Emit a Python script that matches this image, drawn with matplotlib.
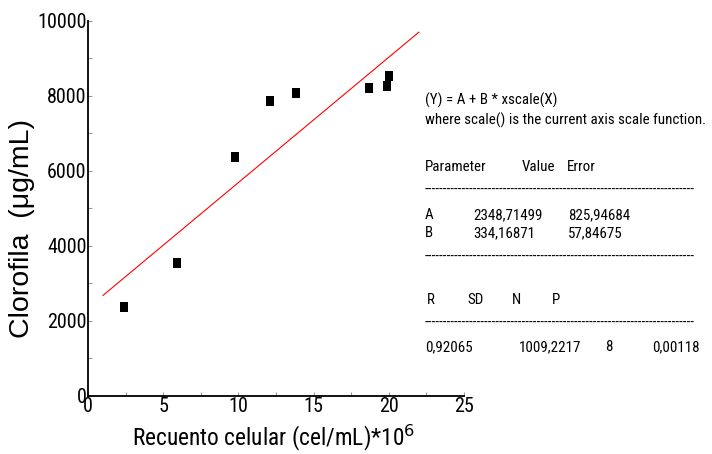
import numpy as np
import matplotlib
matplotlib.use("Agg")
import matplotlib.pyplot as plt
from matplotlib.ticker import MultipleLocator

# -----------------------------
# Data
# -----------------------------
recuento = [2.4, 5.9, 9.8, 12.1, 13.8, 18.7, 19.9, 20.0]
clorofila = [2365, 3550, 6380, 7870, 8080, 8220, 8270, 8540]

fit_A = 2348.71499
fit_B = 334.16871
fit_x = [1.0, 22.0]

narrow = ["Roboto Condensed", "Liberation Sans", "DejaVu Sans"]
regular = ["Liberation Sans", "DejaVu Sans"]

# -----------------------------
# Plot
# -----------------------------
fig = plt.figure(figsize=(7.12, 4.54), dpi=100)
ax = fig.add_axes([0.1236, 0.1278, 0.528, 0.826])

xf = np.array(fit_x)
ax.plot(xf, fit_A + fit_B * xf, color="red", linewidth=0.8)
# slightly taller than wide, like the original squares
sq = [(-0.42, -0.5), (0.42, -0.5), (0.42, 0.5), (-0.42, 0.5), (-0.42, -0.5)]
ax.plot(recuento, clorofila, linestyle="none", marker=sq, color="black",
        markersize=7.2, markeredgewidth=0)

ax.set_xlim(0, 25)
ax.set_ylim(0, 10000)
ax.xaxis.set_major_locator(MultipleLocator(5))
ax.xaxis.set_minor_locator(MultipleLocator(2.5))
ax.yaxis.set_major_locator(MultipleLocator(2000))
ax.yaxis.set_minor_locator(MultipleLocator(1000))

for s in ["top", "right"]:
    ax.spines[s].set_visible(False)
for s in ["left", "bottom"]:
    ax.spines[s].set_linewidth(1.3)

ax.tick_params(which="both", direction="in", length=3, width=0.8,
               color="#999999", pad=1)
for lab in ax.get_xticklabels() + ax.get_yticklabels():
    lab.set_family(narrow)
    lab.set_fontsize(14.5)

fig.text(0.031, 0.4956, "Clorofila  (\u03bcg/mL)", rotation=90,
         ha="center", va="center", fontsize=20.5, family=regular)
fig.text(0.384, 0.036, "Recuento celular (cel/mL)*10$^{6}$",
         ha="center", va="center", fontsize=16.8, family=narrow)

# -----------------------------
# Fit results text
# -----------------------------
tk = dict(fontsize=10.8, family=narrow, va="center", ha="left")
W, H = 712.0, 454.0

def put(px, py, s):
    fig.text(px / W, 1 - py / H, s, **tk)

dash = "-" * 72
put(425, 100, "(Y) = A + B * xscale(X)")
put(425, 120, "where scale() is the current axis scale function.")
put(425, 167, "Parameter")
put(522, 167, "Value")
put(567, 167, "Error")
put(425, 190, dash)
put(425, 215, "A")
put(473, 215, "2348,71499")
put(568, 215, "825,94684")
put(425, 233, "B")
put(473, 233, "334,16871")
put(568, 233, "57,84675")
put(425, 257, dash)
put(427, 300, "R")
put(467, 300, "SD")
put(512, 300, "N")
put(552, 300, "P")
put(425, 323, dash)
put(425, 347, "0,92065")
put(519, 347, "1009,2217")
put(605, 347, "8")
put(652, 347, "0,00118")

fig.savefig("out.png", dpi=100)
